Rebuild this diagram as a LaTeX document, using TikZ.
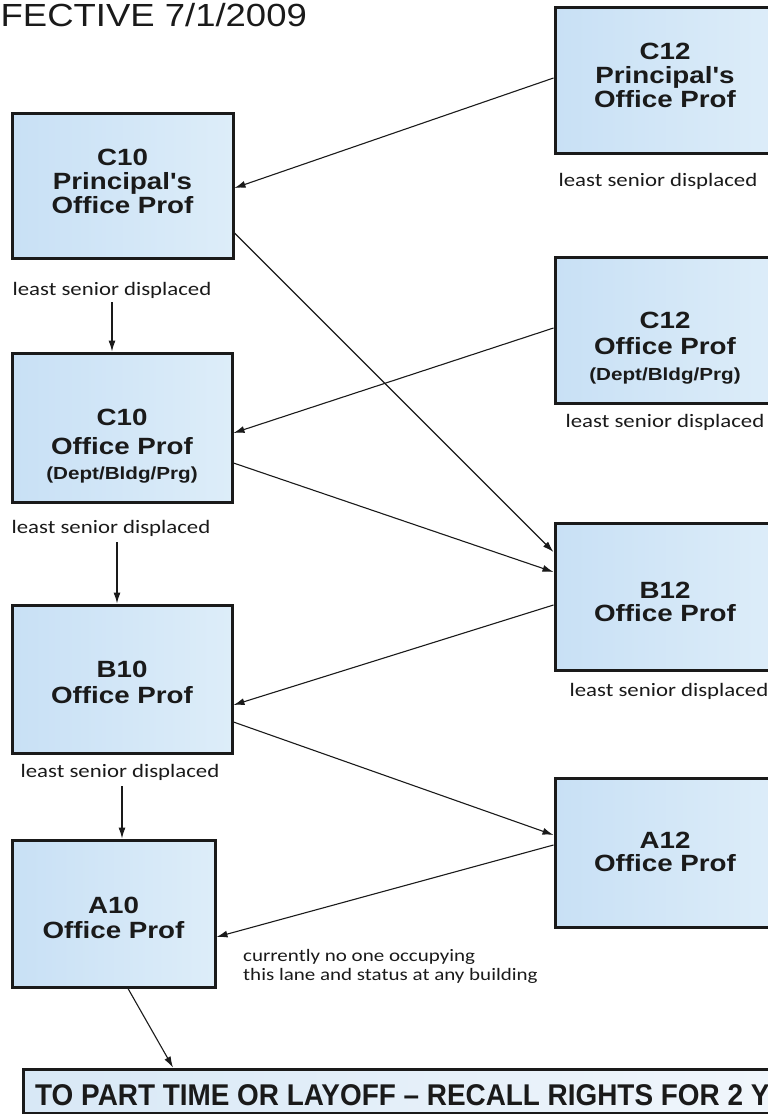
\documentclass[tikz,border=0pt]{standalone}
\usepackage{fontspec}
\usetikzlibrary{arrows.meta}
\newfontfamily\boxfont[FakeStretch=1.18]{Liberation Sans}
\newfontfamily\lblfont[FakeStretch=1.2]{Carlito}
\newfontfamily\titlefont[FakeStretch=1.14]{Liberation Sans}
\newfontfamily\botfont[FakeStretch=0.93]{Liberation Sans}
\definecolor{boxL}{HTML}{C8E0F5}
\definecolor{boxR}{HTML}{DDEDF9}
\definecolor{botL}{HTML}{D8E8F6}
\definecolor{botR}{HTML}{F2F7FC}
\definecolor{ink}{HTML}{1A1A1A}
\begin{document}
\begin{tikzpicture}[x=1pt,y=-1pt,
 box/.style={rectangle, draw=ink, line width=3pt, left color=boxL, right color=boxR, minimum width=221pt, inner sep=0pt},
 bt/.style={anchor=base, inner sep=0pt, text=ink, font=\boxfont\bfseries\fontsize{23.5}{24}\selectfont},
 bts/.style={anchor=base, inner sep=0pt, text=ink, font=\boxfont\bfseries\fontsize{17.5}{18}\selectfont},
 lbl/.style={anchor=base, inner sep=0pt, text=ink, font=\lblfont\fontsize{19}{20}\selectfont},
 caplbl/.style={anchor=base west, inner sep=0pt, text=ink, font=\lblfont\fontsize{17.5}{18}\selectfont},
 arr/.style={draw=ink, line width=1.1pt, -{Latex[length=11pt,width=7pt]}},
]
\useasboundingbox (0,0) rectangle (768,1114);
\clip (0,0) rectangle (768,1114);

% title
\node[anchor=base west, inner sep=0pt, text=ink, font=\titlefont\fontsize{32}{34}\selectfont] (title) at (0.5,26) {FECTIVE 7/1/2009};

% left column boxes
\node[box, minimum width=221pt, minimum height=145pt] (c10p) at (122.5,185.5) {};
\node[bt] (c10p1) at (122.5,165) {C10};
\node[bt] (c10p2) at (122.5,189) {Principal's};
\node[bt] (c10p3) at (122.5,213) {Office Prof};
\node[lbl] (l1) at (112,295) {least senior displaced};

\node[box, minimum width=220pt, minimum height=149pt] (c10o) at (122,427.5) {};
\node[bt] (c10o1) at (122,425) {C10};
\node[bt] (c10o2) at (122,454) {Office Prof};
\node[bts] (c10o3) at (122,479) {(Dept/Bldg/Prg)};
\node[lbl] (l3) at (111,533) {least senior displaced};

\node[box, minimum width=220pt, minimum height=148pt] (b10) at (122,679) {};
\node[bt] (b101) at (122,677) {B10};
\node[bt] (b102) at (122,703) {Office Prof};
\node[lbl] (l6) at (120,777) {least senior displaced};

\node[box, minimum width=203pt, minimum height=147pt] (a10) at (113.5,913.5) {};
\node[bt] (a101) at (113.5,913) {A10};
\node[bt] (a102) at (113.5,938) {Office Prof};
\node[caplbl] (cap1) at (243,961) {currently no one occupying};
\node[caplbl] (cap2) at (243,980) {this lane and status at any building};

% right column boxes
\node[box, minimum height=146pt] (c12p) at (665.5,80) {};
\node[bt] (c12p1) at (665,59) {C12};
\node[bt] (c12p2) at (665,83) {Principal's};
\node[bt] (c12p3) at (665,107) {Office Prof};
\node[lbl] (l2) at (658,186) {least senior displaced};

\node[box, minimum height=146pt] (c12o) at (665.5,330) {};
\node[bt] (c12o1) at (665,328) {C12};
\node[bt] (c12o2) at (665,354) {Office Prof};
\node[bts] (c12o3) at (665,380) {(Dept/Bldg/Prg)};
\node[lbl] (l4) at (665,427) {least senior displaced};

\node[box, minimum height=147pt] (b12) at (665.5,596.5) {};
\node[bt] (b121) at (665,598) {B12};
\node[bt] (b122) at (665,621) {Office Prof};
\node[lbl] (l5) at (669,696) {least senior displaced};

\node[box, minimum height=149pt] (a12) at (665.5,852.5) {};
\node[bt] (a121) at (665,848) {A12};
\node[bt] (a122) at (665,871) {Office Prof};

% bottom box
\node[rectangle, draw=ink, line width=3pt, left color=botL, right color=botR, minimum width=800pt, minimum height=44pt, inner sep=0pt] (bot) at (423,1091) {};
\node[anchor=base west, inner sep=0pt, text=ink, font=\botfont\bfseries\fontsize{30}{32}\selectfont] (bott) at (35,1105) {TO PART TIME OR LAYOFF – RECALL RIGHTS FOR 2 Y};

% connectors
\draw[arr] ([yshift=2pt]c12p.west) -- ([yshift=-2.5pt]c10p.east);
\draw[arr] ([yshift=-47.5pt]c10p.east) -- ([yshift=44.5pt]b12.west);
\draw[arr] ([yshift=-35.5pt]c10o.east) -- ([yshift=24.5pt]b12.west);
\draw[arr] ([yshift=2pt]c12o.west) -- ([yshift=-5.5pt]c10o.east);
\draw[arr] ([yshift=-8.5pt]b12.west) -- ([yshift=-26pt]b10.east);
\draw[arr] ([yshift=-43pt]b10.east) -- ([yshift=17.5pt]a12.west);
\draw[arr] ([yshift=7.5pt]a12.west) -- ([yshift=-23.5pt]a10.east);
\draw[arr] ([xshift=14.5pt]a10.south) -- ([xshift=-250pt]bot.north);

\draw[arr] ([yshift=-4pt]l1.south) -- (l1.south |- c10o.north);
\draw[arr] ([xshift=6pt,yshift=-6pt]l3.south) -- ([xshift=6pt]l3.south |- b10.north);
\draw[arr] ([xshift=2pt,yshift=-6pt]l6.south) -- ([xshift=2pt]l6.south |- a10.north);
\end{tikzpicture}
\end{document}
